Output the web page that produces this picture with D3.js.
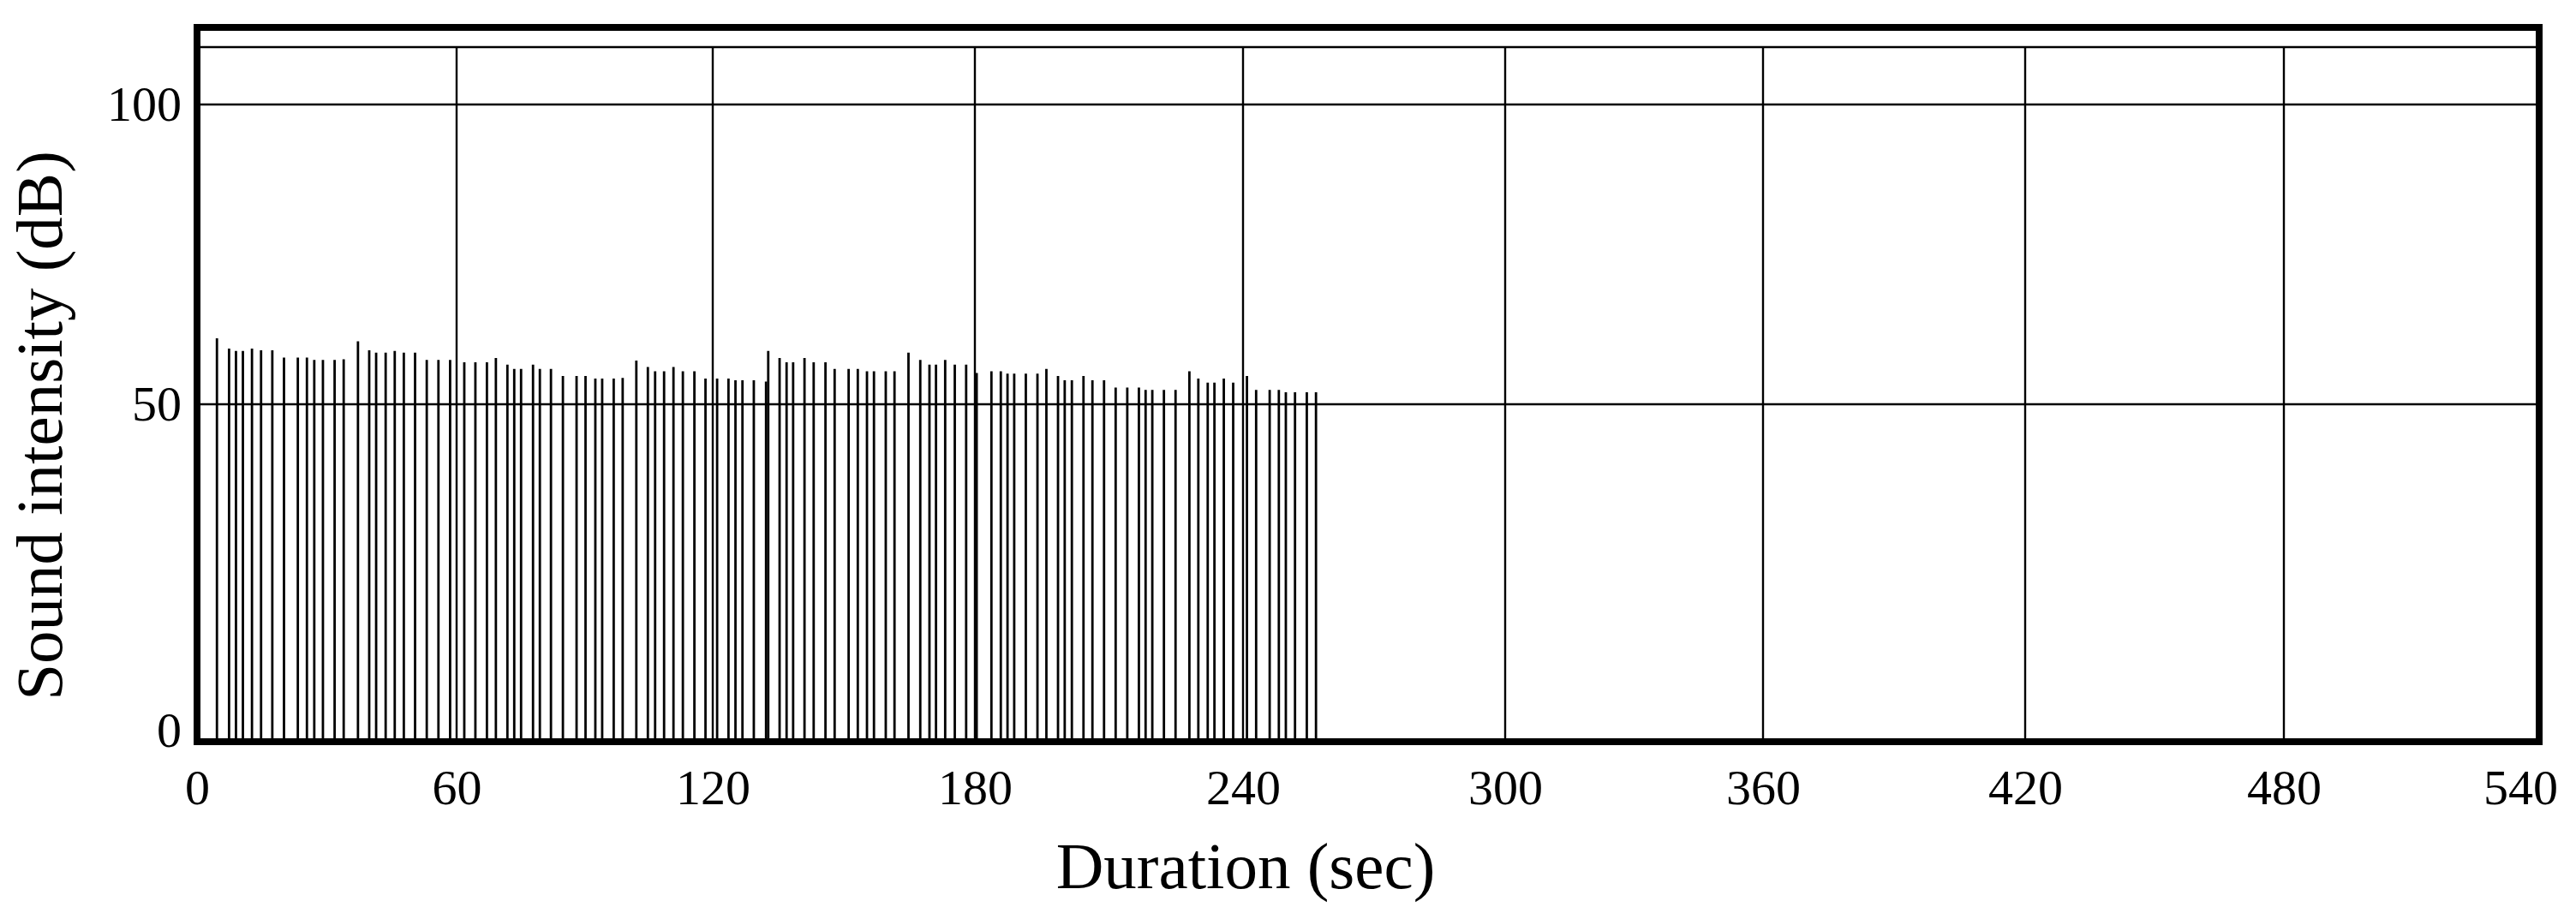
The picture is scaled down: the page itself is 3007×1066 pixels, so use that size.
<!DOCTYPE html>
<html>
<head>
<meta charset="utf-8">
<script src="https://cdn.jsdelivr.net/npm/d3@7"></script>
<style>
  body { margin: 0; background: #fff; }
  text { font-family: "Liberation Serif", "DejaVu Serif", serif; fill: #000; }
</style>
</head>
<body>
<div id="chart"></div>
<script>
// x axis ticks (sec) and y axis ticks (dB)
const xTicks = [0, 60, 120, 180, 240, 300, 360, 420, 480, 540];
const yTicks = [0, 50, 100];
const yGrid = [50, 100, 110];

// time of each sound burst (sec)
const burstTimes = [
  4.6, 7.4, 9.0, 10.6, 12.7, 14.8, 17.4, 20.1, 23.3, 25.4, 27.1, 29.1,
  31.8, 33.9, 37.2, 39.8, 41.4, 43.6, 45.7, 47.8, 50.4, 53.1, 55.8, 58.5,
  61.8, 64.4, 67.1, 69.2, 71.9, 73.5, 75.1, 77.9, 79.5, 82.1, 84.9, 88.1,
  90.2, 92.5, 94.1, 96.8, 98.9, 102.1, 104.8, 106.5, 108.6, 110.8, 113.0, 115.7,
  118.3, 121.0, 123.6, 125.2, 126.8, 129.4, 132.2, 132.7, 135.3, 136.9, 138.4, 141.0,
  143.1, 145.8, 147.9, 151.1, 153.2, 155.3, 156.9, 159.6, 161.6, 164.8, 167.5, 169.6,
  171.1, 173.2, 175.4, 178.0, 180.4, 183.7, 185.8, 187.3, 188.8, 191.4, 194.0, 196.0,
  198.6, 200.1, 201.7, 204.3, 206.3, 208.9, 211.5, 214.1, 216.7, 218.2, 219.7, 222.3,
  224.9, 228.0, 230.0, 232.1, 233.6, 235.7, 237.8, 240.9, 243.0, 246.1, 248.2, 249.8,
  251.9, 254.6, 256.7
];

// peak intensity of each burst (dB)
const burstLevels = [
  61.0, 59.3, 58.9, 58.9, 59.3, 59.0, 59.0, 57.8, 57.8, 57.8, 57.4, 57.4,
  57.4, 57.5, 60.5, 59.0, 58.6, 58.6, 58.9, 58.6, 58.6, 57.4, 57.4, 57.4,
  57.0, 57.0, 57.0, 57.7, 56.6, 55.9, 55.9, 56.6, 55.9, 55.9, 54.7, 54.7,
  54.7, 54.3, 54.3, 54.3, 54.4, 57.3, 56.2, 55.5, 55.5, 56.2, 55.5, 55.5,
  54.3, 54.3, 54.3, 54.0, 54.0, 54.0, 53.8, 58.9, 57.7, 57.0, 57.0, 57.7,
  57.0, 57.0, 55.9, 55.9, 55.9, 55.5, 55.5, 55.5, 55.5, 58.6, 57.4, 56.6,
  56.6, 57.4, 56.6, 56.6, 55.2, 55.5, 55.5, 55.1, 55.1, 55.1, 55.1, 55.9,
  54.7, 54.0, 54.0, 54.7, 54.0, 54.0, 52.8, 52.8, 52.8, 52.4, 52.4, 52.4,
  52.4, 55.5, 54.3, 53.6, 53.6, 54.3, 53.6, 54.7, 52.4, 52.4, 52.4, 52.0,
  52.0, 52.0, 52.0
];

const width = 3007, height = 1066;

const svg = d3.select("#chart")
  .append("svg")
  .attr("width", width)
  .attr("height", height);

// the printed grid is not quite even, so the scales follow the gridlines
const x = d3.scaleLinear()
  .domain(xTicks)
  .range([230, 533, 832, 1138, 1451, 1757, 2058, 2364, 2666, 2964]);

const y = d3.scaleLinear()
  .domain([0, 50, 100, 110])
  .range([866, 472, 122, 55]);

const plotLeft = x(0), plotRight = x(540), plotTop = 32, plotBottom = y(0);

// horizontal gridlines
svg.append("g")
  .selectAll("line")
  .data(yGrid)
  .join("line")
  .attr("x1", plotLeft)
  .attr("x2", plotRight)
  .attr("y1", d => y(d))
  .attr("y2", d => y(d))
  .attr("stroke", "#000")
  .attr("stroke-width", 2.4);

// vertical gridlines
svg.append("g")
  .selectAll("line")
  .data(xTicks.slice(1, -1))
  .join("line")
  .attr("x1", d => x(d))
  .attr("x2", d => x(d))
  .attr("y1", y(110))
  .attr("y2", plotBottom)
  .attr("stroke", "#000")
  .attr("stroke-width", 2.4);

// bursts
svg.append("g")
  .selectAll("line")
  .data(burstTimes)
  .join("line")
  .attr("x1", d => x(d))
  .attr("x2", d => x(d))
  .attr("y1", plotBottom)
  .attr("y2", (d, i) => y(burstLevels[i]))
  .attr("stroke", "#000")
  .attr("stroke-width", 2.8);

// frame
svg.append("rect")
  .attr("x", plotLeft)
  .attr("y", plotTop)
  .attr("width", plotRight - plotLeft)
  .attr("height", plotBottom - plotTop)
  .attr("fill", "none")
  .attr("stroke", "#000")
  .attr("stroke-width", 8);

// axes, labels only
const xAxis = svg.append("g")
  .attr("transform", `translate(0, ${plotBottom})`)
  .call(d3.axisBottom(x).tickValues(xTicks).tickSize(0).tickPadding(32));
xAxis.select(".domain").remove();
xAxis.selectAll("text")
  .attr("font-size", 58)
  .attr("font-family", "Liberation Serif")
  .attr("dx", d => d == 540 ? -22 : 0);

const yAxis = svg.append("g")
  .attr("transform", `translate(212, 0)`)
  .call(d3.axisLeft(y).tickValues(yTicks).tickSize(0).tickPadding(0));
yAxis.select(".domain").remove();
yAxis.selectAll("text")
  .attr("font-size", 58)
  .attr("font-family", "Liberation Serif")
  .attr("dy", d => d == 0 ? "0.1em" : "0.32em");

// axis titles
svg.append("text")
  .attr("x", 1454)
  .attr("y", 1037)
  .attr("text-anchor", "middle")
  .attr("font-size", 77)
  .text("Duration (sec)");

svg.append("text")
  .attr("transform", "translate(72, 497) rotate(-90)")
  .attr("text-anchor", "middle")
  .attr("font-size", 77)
  .text("Sound intensity (dB)");
</script>
</body>
</html>
